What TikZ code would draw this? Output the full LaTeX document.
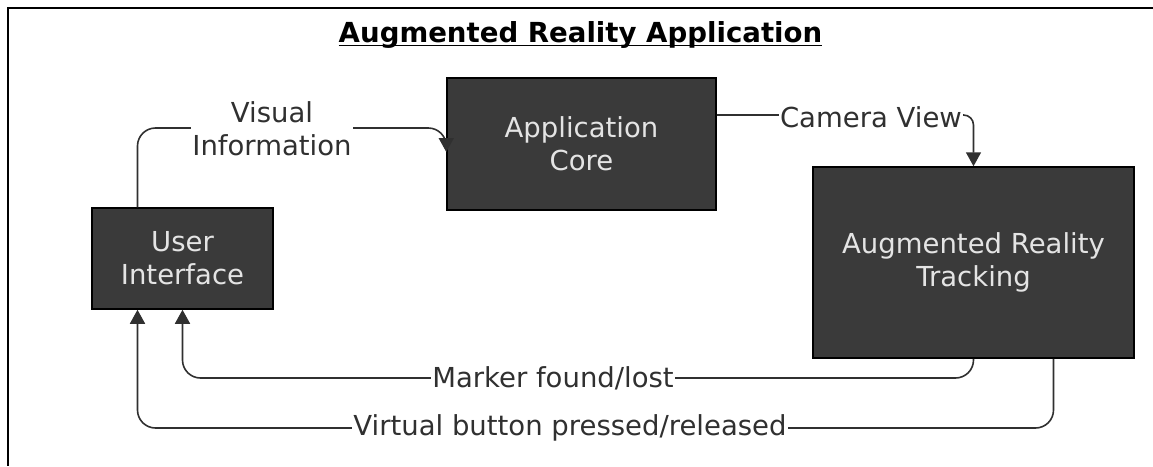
\documentclass[tikz,border=0pt]{standalone}
\usepackage{fontspec}
\setmainfont{DejaVu Sans}
\usetikzlibrary{arrows.meta}
\definecolor{box-gray}{HTML}{3A3A3A}
\definecolor{boxtext-gray}{HTML}{E4E4E4}
\definecolor{line-gray}{HTML}{303030}
\newcommand{\diaglabelfont}{\fontsize{27.5}{33}\selectfont}
\tikzstyle{blockstyle}=[shape=rectangle,draw=black,line width=1.5pt,fill=box-gray,text=boxtext-gray,align=center,font=\diaglabelfont,inner sep=0pt]
\tikzstyle{flowstyle}=[draw=line-gray,line width=1.6pt,rounded corners=18pt,-{Triangle[width=15pt,length=14pt]}]
\tikzstyle{flowlabelstyle}=[fill=white,text=line-gray,font=\diaglabelfont,align=center,inner sep=1pt]
\begin{document}
\begin{tikzpicture}[x=1pt,y=-1pt]
\useasboundingbox (0,0) rectangle (1153,466);
\draw[line width=2.5pt] (1153,8) -- (8,8) -- (8,466); %
% title
\node[anchor=base,inner sep=0pt,font=\fontsize{27.6}{33}\selectfont\bfseries] (title) at (580.5,42) {Augmented Reality Application}; %
\draw[line width=1.8pt] ([yshift=-3.5pt]title.base west) -- ([yshift=-3.5pt]title.base east); %
% blocks
\node[blockstyle,minimum width=269pt,minimum height=132pt] (core) at (581.5,144) {Application\\Core}; %
\node[blockstyle,minimum width=181pt,minimum height=101pt] (ui) at (182.5,258.5) {User\\Interface}; %
\node[blockstyle,minimum width=321pt,minimum height=191pt] (ar) at (973.5,262.5) {Augmented Reality\\Tracking}; %
% rows of the return flows
\coordinate (markerrow) at (0,378); %
\coordinate (virtualrow) at (0,428); %
% flows
\draw[flowstyle] ([xshift=-45pt]ui.north) |- ([yshift=16pt]core.west) -- ([yshift=-8pt]core.west); %
\draw[flowstyle,rounded corners=10pt] ([yshift=29pt]core.east) -| (ar.north); %
\draw[flowstyle] (ar.south) -- (ar.south |- markerrow) -- (ui.south |- markerrow) -- (ui.south); %
\draw[flowstyle] ([xshift=80pt]ar.south) -- ([xshift=80pt]ar.south |- virtualrow) -- ([xshift=-45pt]ui.south |- virtualrow) -- ([xshift=-45pt]ui.south); %
% flow labels
\node[flowlabelstyle] (visuallbl) at (272,129) {Visual\\Information}; %
\node[flowlabelstyle] (cameralbl) at (871,117) {Camera View}; %
\node[flowlabelstyle] (markerlbl) at (553,378) {Marker found/lost}; %
\node[flowlabelstyle] (virtuallbl) at (570,428) {Virtual button pressed/released}; %
\end{tikzpicture}
\end{document}
